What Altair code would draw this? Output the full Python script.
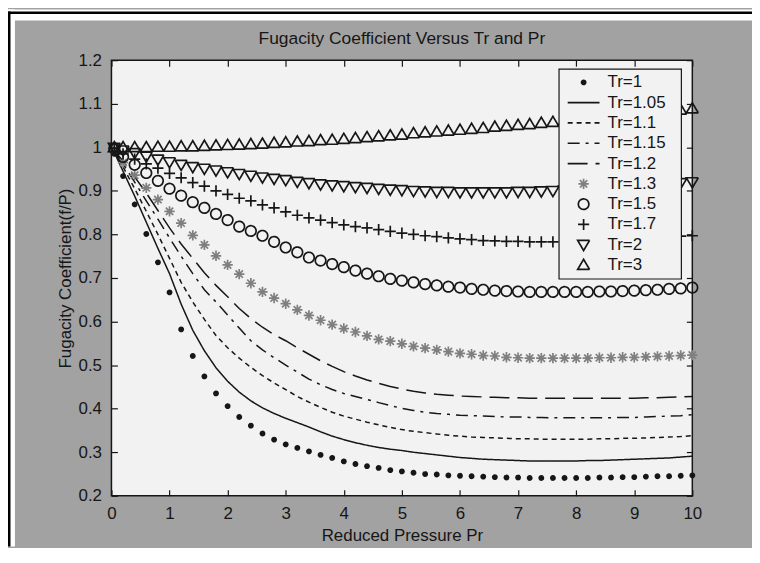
import altair as alt
import pandas as pd

# ---------------- text ----------------
TITLE = "Fugacity Coefficient Versus Tr and Pr"
X_TITLE = "Reduced Pressure Pr"
Y_TITLE = "Fugacity Coefficient(f/P)"

LABELS = ["Tr=1", "Tr=1.05", "Tr=1.1", "Tr=1.15", "Tr=1.2",
          "Tr=1.3", "Tr=1.5", "Tr=1.7", "Tr=2", "Tr=3"]
LINE_LABELS = ["Tr=1.05", "Tr=1.1", "Tr=1.15", "Tr=1.2"]

X_TICKS = [0, 1, 2, 3, 4, 5, 6, 7, 8, 9, 10]
Y_TICKS = [0.2, 0.3, 0.4, 0.5, 0.6, 0.7, 0.8, 0.9, 1.0, 1.1, 1.2]

# ---------------- data ----------------
PR = [0.05, 0.2, 0.4, 0.6, 0.8, 1.0, 1.2, 1.4, 1.6, 1.8, 2.0,
      2.2, 2.4, 2.6, 2.8, 3.0, 3.2, 3.4, 3.6, 3.8, 4.0,
      4.2, 4.4, 4.6, 4.8, 5.0, 5.2, 5.4, 5.6, 5.8, 6.0,
      6.2, 6.4, 6.6, 6.8, 7.0, 7.2, 7.4, 7.6, 7.8, 8.0,
      8.2, 8.4, 8.6, 8.8, 9.0, 9.2, 9.4, 9.6, 9.8, 10.0]

PHI_TR_1 = [0.985, 0.934, 0.869, 0.801, 0.736, 0.667, 0.582, 0.521, 0.474, 0.435, 0.406,
            0.381, 0.361, 0.343, 0.329, 0.318, 0.310, 0.302, 0.294, 0.287, 0.279,
            0.273, 0.268, 0.264, 0.259, 0.256, 0.253, 0.250, 0.249, 0.247, 0.246,
            0.245, 0.244, 0.243, 0.242, 0.242, 0.241, 0.241, 0.241, 0.241, 0.241,
            0.241, 0.242, 0.242, 0.243, 0.243, 0.244, 0.245, 0.245, 0.246, 0.247]
PHI_TR_105 = [0.988, 0.945, 0.888, 0.828, 0.768, 0.710, 0.640, 0.580, 0.533, 0.494, 0.463,
              0.438, 0.418, 0.402, 0.389, 0.378, 0.368, 0.358, 0.347, 0.337, 0.329,
              0.322, 0.316, 0.311, 0.307, 0.304, 0.300, 0.297, 0.294, 0.291, 0.288,
              0.286, 0.284, 0.283, 0.282, 0.281, 0.280, 0.280, 0.280, 0.280, 0.280,
              0.281, 0.281, 0.282, 0.283, 0.284, 0.285, 0.286, 0.287, 0.289, 0.291]
PHI_TR_11 = [0.990, 0.955, 0.905, 0.853, 0.800, 0.745, 0.690, 0.645, 0.605, 0.568, 0.540,
             0.516, 0.495, 0.476, 0.459, 0.444, 0.428, 0.415, 0.403, 0.392, 0.383,
             0.376, 0.369, 0.363, 0.357, 0.352, 0.348, 0.345, 0.342, 0.339, 0.337,
             0.335, 0.334, 0.333, 0.332, 0.331, 0.331, 0.330, 0.330, 0.330, 0.330,
             0.330, 0.331, 0.331, 0.332, 0.332, 0.333, 0.334, 0.335, 0.336, 0.338]
PHI_TR_115 = [0.992, 0.962, 0.920, 0.877, 0.835, 0.792, 0.750, 0.710, 0.673, 0.645, 0.615,
              0.585, 0.556, 0.535, 0.517, 0.500, 0.484, 0.468, 0.455, 0.444, 0.435,
              0.428, 0.421, 0.414, 0.407, 0.401, 0.396, 0.392, 0.389, 0.387, 0.385,
              0.384, 0.383, 0.382, 0.381, 0.381, 0.380, 0.380, 0.379, 0.379, 0.379,
              0.379, 0.379, 0.379, 0.380, 0.380, 0.381, 0.382, 0.383, 0.384, 0.386]
PHI_TR_12 = [0.993, 0.968, 0.932, 0.895, 0.855, 0.815, 0.778, 0.745, 0.712, 0.683, 0.657,
             0.630, 0.607, 0.587, 0.570, 0.556, 0.540, 0.525, 0.510, 0.497, 0.485,
             0.475, 0.466, 0.458, 0.451, 0.445, 0.440, 0.436, 0.433, 0.431, 0.429,
             0.428, 0.427, 0.426, 0.425, 0.425, 0.424, 0.424, 0.424, 0.424, 0.424,
             0.424, 0.424, 0.424, 0.424, 0.424, 0.425, 0.425, 0.426, 0.427, 0.428]
PHI_TR_13 = [0.995, 0.965, 0.936, 0.907, 0.880, 0.853, 0.826, 0.798, 0.776, 0.751, 0.730,
             0.709, 0.688, 0.668, 0.654, 0.641, 0.627, 0.614, 0.603, 0.593, 0.584,
             0.576, 0.567, 0.559, 0.555, 0.549, 0.543, 0.539, 0.535, 0.531, 0.527,
             0.525, 0.522, 0.521, 0.518, 0.517, 0.516, 0.516, 0.516, 0.516, 0.516,
             0.516, 0.517, 0.517, 0.518, 0.518, 0.519, 0.520, 0.521, 0.522, 0.523]
PHI_TR_15 = [0.997, 0.978, 0.960, 0.941, 0.923, 0.905, 0.889, 0.874, 0.861, 0.847, 0.833,
             0.818, 0.808, 0.797, 0.783, 0.770, 0.759, 0.747, 0.740, 0.732, 0.725,
             0.717, 0.710, 0.704, 0.698, 0.694, 0.690, 0.686, 0.683, 0.680, 0.678,
             0.675, 0.673, 0.671, 0.670, 0.669, 0.668, 0.668, 0.668, 0.668, 0.668,
             0.668, 0.669, 0.669, 0.670, 0.671, 0.672, 0.673, 0.675, 0.676, 0.678]
PHI_TR_17 = [0.998, 0.985, 0.973, 0.962, 0.952, 0.940, 0.930, 0.919, 0.911, 0.900, 0.892,
             0.883, 0.877, 0.868, 0.861, 0.852, 0.844, 0.838, 0.833, 0.827, 0.822,
             0.818, 0.815, 0.811, 0.807, 0.803, 0.800, 0.797, 0.795, 0.792, 0.790,
             0.788, 0.786, 0.785, 0.784, 0.784, 0.783, 0.783, 0.783, 0.784, 0.784,
             0.785, 0.786, 0.787, 0.788, 0.789, 0.791, 0.792, 0.794, 0.796, 0.797]
PHI_TR_2 = [0.999, 0.993, 0.987, 0.979, 0.972, 0.966, 0.960, 0.955, 0.951, 0.947, 0.943,
            0.939, 0.935, 0.931, 0.928, 0.925, 0.921, 0.918, 0.915, 0.913, 0.911,
            0.909, 0.907, 0.905, 0.903, 0.902, 0.900, 0.899, 0.898, 0.898, 0.897,
            0.897, 0.897, 0.897, 0.897, 0.898, 0.898, 0.899, 0.900, 0.901, 0.902,
            0.903, 0.905, 0.906, 0.908, 0.910, 0.912, 0.914, 0.916, 0.918, 0.920]
PHI_TR_3 = [1.000, 1.000, 1.000, 1.000, 1.001, 1.001, 1.002, 1.002, 1.003, 1.004, 1.005,
            1.006, 1.007, 1.008, 1.010, 1.011, 1.013, 1.014, 1.016, 1.017, 1.019,
            1.021, 1.023, 1.025, 1.027, 1.029, 1.032, 1.034, 1.036, 1.038, 1.040,
            1.042, 1.044, 1.047, 1.049, 1.051, 1.053, 1.056, 1.058, 1.061, 1.063,
            1.065, 1.068, 1.070, 1.073, 1.075, 1.078, 1.080, 1.083, 1.086, 1.089]

SERIES = {
    "Tr=1": PHI_TR_1, "Tr=1.05": PHI_TR_105, "Tr=1.1": PHI_TR_11,
    "Tr=1.15": PHI_TR_115, "Tr=1.2": PHI_TR_12, "Tr=1.3": PHI_TR_13,
    "Tr=1.5": PHI_TR_15, "Tr=1.7": PHI_TR_17, "Tr=2": PHI_TR_2, "Tr=3": PHI_TR_3,
}

rows = []
for lab in LABELS:
    for p, v in zip(PR, SERIES[lab]):
        rows.append({"label": lab, "Pr": p, "phi": v})
df = pd.DataFrame(rows)
line_df = df[df["label"].isin(LINE_LABELS)]
point_df = df[~df["label"].isin(LINE_LABELS)]
legend_df = pd.DataFrame({"label": LABELS})

# ---------------- styles ----------------
FONT = "Liberation Sans"
FS = 17
INK = "#161616"
MARK_GRAY = "#7f7f7f"
FIG_GRAY = "#a2a2a2"
PLOT_BG = "#f2f2f2"

# symbol paths in a unit where 1 = 8 px (mark size 256)
DOT_SYM = ("M-0.26,0A0.26,0.26 0 1,1 0.26,0A0.26,0.26 0 1,1 -0.26,0Z"
           "M-0.11,0A0.11,0.11 0 1,1 0.11,0A0.11,0.11 0 1,1 -0.11,0Z")
LINE_SYM = "M-2,0L2,0"
CIRC_SYM = "M-0.66,0A0.66,0.66 0 1,1 0.66,0A0.66,0.66 0 1,1 -0.66,0Z"
PLUS_SYM = "M-0.7,0L0.7,0M0,-0.7L0,0.7"
STAR_SYM = ("M-0.65,0L0.65,0M0,-0.65L0,0.65"
            "M-0.46,-0.46L0.46,0.46M-0.46,0.46L0.46,-0.46")
TDOWN_SYM = "M-0.75,-0.55L0.75,-0.55L0,0.72Z"
TUP_SYM = "M-0.75,0.55L0.75,0.55L0,-0.72Z"
SHAPES = [DOT_SYM, LINE_SYM, LINE_SYM, LINE_SYM, LINE_SYM,
          STAR_SYM, CIRC_SYM, PLUS_SYM, TDOWN_SYM, TUP_SYM]
STROKES = [INK] * 5 + [MARK_GRAY] + [INK] * 4
DASHES = [[1, 0], [1, 0], [5, 4], [12, 6, 3, 6], [20, 8],
          [1, 0], [1, 0], [1, 0], [1, 0], [1, 0]]
SYM_SIZE = 256

W, H = 584, 438
PAD_L, PAD_T, PAD_R, PAD_B = 104, 51, 60, 51
CANVAS_W, CANVAS_H = PAD_L + W + PAD_R, PAD_T + H + PAD_B

# legend box (relative to the plot area)
LEG_X0, LEG_X1, LEG_Y0, LEG_Y1 = 450, 573, 9, 220
LEG_ROW_FIRST, LEG_ROW_LAST = 22.3, 206
LEG_SYM_X, LEG_TEXT_X = 474.7, 498.7

x_scale = alt.Scale(domain=[0, 10], nice=False, zero=False)
y_scale = alt.Scale(domain=[0.2, 1.2], nice=False, zero=False)
shape_scale = alt.Scale(domain=LABELS, range=SHAPES)
stroke_scale = alt.Scale(domain=LABELS, range=STROKES)
dash_scale = alt.Scale(domain=LABELS, range=DASHES)
legend_y_scale = alt.Scale(type="point", domain=LABELS, range=[LEG_ROW_FIRST, LEG_ROW_LAST],
                           padding=0)

INWARD = {"expr": "-6"}

bottom_axis = alt.Axis(orient="bottom", values=X_TICKS, format="d", labelFlush=False,
                       labelOverlap=False, labelPadding=16, tickSize=INWARD,
                       title=X_TITLE, titleX=W / 2, titleY=45, titleBaseline="alphabetic",
                       titleAlign="center")
left_axis = alt.Axis(orient="left", values=Y_TICKS, format=".1~f", labelFlush=False,
                     labelOverlap=False, labelPadding=16, tickSize=INWARD,
                     title=Y_TITLE, titleAngle=270, titleX=-41, titleY=H / 2,
                     titleBaseline="alphabetic", titleAlign="center")
top_axis = alt.Axis(orient="top", values=X_TICKS, labels=False, tickSize=INWARD, title=None)
right_axis = alt.Axis(orient="right", values=Y_TICKS, labels=False, tickSize=INWARD, title=None)


def deco(x0, x1, y0, y1, color):
    return alt.Chart(pd.DataFrame({"k": [0]})).mark_rect(color=color, strokeWidth=0).encode(
        x=alt.value(x0 - PAD_L), x2=alt.value(x1 - PAD_L),
        y=alt.value(y0 - PAD_T), y2=alt.value(y1 - PAD_T))


frame = [
    deco(0, CANVAS_W, 0, 11, "white"),
    deco(0, 7, 0, CANVAS_H, "white"),
    deco(0, CANVAS_W, 2, 4.5, "black"),
    deco(0, 2.5, 2, CANVAS_H, "black"),
]

lines = alt.Chart(line_df).mark_line(strokeWidth=1.5, color=INK).encode(
    x=alt.X("Pr:Q", scale=x_scale, axis=top_axis),
    y=alt.Y("phi:Q", scale=y_scale, axis=right_axis),
    strokeDash=alt.StrokeDash("label:N", scale=dash_scale, legend=None),
    detail="label:N",
)

points = alt.Chart(point_df).mark_point(filled=False, size=SYM_SIZE, strokeWidth=1.7,
                                         opacity=1).encode(
    x=alt.X("Pr:Q", scale=x_scale, axis=bottom_axis),
    y=alt.Y("phi:Q", scale=y_scale, axis=left_axis),
    shape=alt.Shape("label:N", scale=shape_scale, legend=None),
    stroke=alt.Stroke("label:N", scale=stroke_scale, legend=None),
    strokeDash=alt.StrokeDash("label:N", scale=dash_scale, legend=None),
)

# ---- legend (box + symbols + labels) ----
legend_box = alt.Chart(pd.DataFrame({"k": [0]})).mark_rect(
    fill=PLOT_BG, stroke=INK, strokeWidth=1.2
).encode(x=alt.value(LEG_X0), x2=alt.value(LEG_X1), y=alt.value(LEG_Y0), y2=alt.value(LEG_Y1))

legend_symbols = alt.Chart(legend_df).mark_point(filled=False, size=SYM_SIZE, strokeWidth=1.7,
                                                  opacity=1).encode(
    x=alt.value(LEG_SYM_X),
    y=alt.Y("label:N", scale=legend_y_scale, axis=None),
    shape=alt.Shape("label:N", scale=shape_scale, legend=None),
    stroke=alt.Stroke("label:N", scale=stroke_scale, legend=None),
    strokeDash=alt.StrokeDash("label:N", scale=dash_scale, legend=None),
)

legend_text = alt.Chart(legend_df).mark_text(
    align="left", baseline="middle", font=FONT, fontSize=FS, color=INK
).encode(
    x=alt.value(LEG_TEXT_X),
    y=alt.Y("label:N", scale=legend_y_scale, axis=None),
    text="label:N",
)

chart = alt.layer(*frame, lines, points, legend_box, legend_symbols, legend_text).resolve_axis(
    x="independent", y="independent"
).resolve_scale(
    y="independent"
).properties(
    width=W, height=H,
    autosize=alt.AutoSizeParams(type="none"),
    padding={"left": PAD_L, "top": PAD_T, "right": PAD_R, "bottom": PAD_B},
    background=FIG_GRAY,
    title=alt.TitleParams(TITLE, font=FONT, fontSize=17.5, fontWeight="normal", color=INK,
                          anchor="middle", frame="group", offset=0, dy=52.7,
                          baseline="alphabetic"),
).configure_view(
    fill=PLOT_BG, stroke=INK, strokeWidth=1.5
).configure_axis(
    labelFont=FONT, labelFontSize=FS, labelColor=INK, tickColor=INK, tickWidth=1.2,
    domain=False, grid=False, zindex=1,
    titleFont=FONT, titleFontSize=FS, titleFontWeight="normal", titleColor=INK,
)

chart.save("out.html", embed_options={"renderer": "svg", "actions": False})
